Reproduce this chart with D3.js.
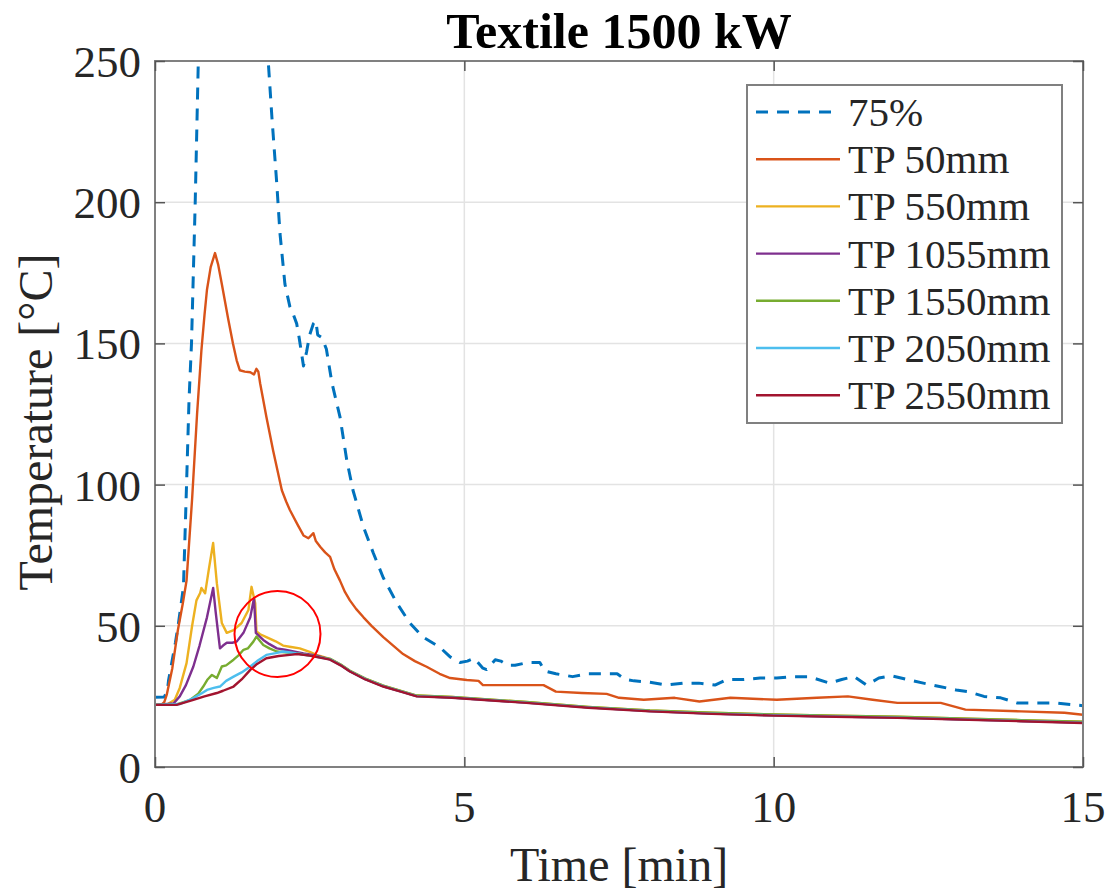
<!DOCTYPE html>
<html>
<head>
<meta charset="utf-8">
<script src="https://cdn.jsdelivr.net/npm/d3@7"></script>
<style>
  html, body { margin: 0; padding: 0; background: #fff; }
  svg { display: block; }
  text { font-family: "Liberation Serif", "Times New Roman", serif; }
</style>
</head>
<body>
<svg id="chart" width="1110" height="891"></svg>
<script>
// ---------------- DATA ----------------
const chartTitle = "Textile 1500 kW";
const xLabel = "Time [min]";
const yLabel = "Temperature [°C]";
const xTicks = [0, 5, 10, 15];
const yTicks = [0, 50, 100, 150, 200, 250];
const seriesNames = ["75%", "TP 50mm", "TP 550mm", "TP 1055mm", "TP 1550mm", "TP 2050mm", "TP 2550mm"];

const s75 = [[0,24.7],[0.15,24.8],[0.2,27],[0.22,30.8],[0.27,36.8],[0.33,44],[0.38,51],[0.46,63.8],[0.51,100],[0.55,130],[0.59,150],[0.65,200],[0.70,250],[0.8,295],[1.0,330],[1.3,320],[1.6,285],[1.83,250],[1.89,230],[1.97,206],[2.02,189],[2.1,171],[2.18,163],[2.24,160],[2.29,157],[2.33,152],[2.4,142],[2.45,147],[2.5,153],[2.56,157],[2.6,158],[2.63,153],[2.7,152],[2.77,148],[2.86,136],[2.99,124],[3.1,108.6],[3.2,98],[3.37,85],[3.53,75.7],[3.69,67],[3.91,58],[4.12,51],[4.33,46],[4.6,42.5],[4.77,39],[4.93,37],[5.05,37.5],[5.16,38.5],[5.3,35],[5.36,34.5],[5.5,38],[5.59,37.5],[5.7,36],[5.82,36],[6.02,37],[6.22,37],[6.3,34],[6.48,33],[6.75,32],[7.01,33],[7.27,33],[7.47,33],[7.6,31],[7.74,30.5],[8.0,30],[8.26,29],[8.53,29.7],[8.79,29.7],[9.05,29],[9.25,31],[9.52,31],[9.78,31.5],[10.05,31.5],[10.31,32],[10.57,32],[10.9,29.7],[11.1,31],[11.3,32],[11.5,29],[11.7,31.5],[11.9,32.3],[12.16,31],[12.42,29.7],[12.68,28.5],[12.95,27.3],[13.14,26.7],[13.4,25],[13.67,24.5],[13.93,22.7],[14.2,22.7],[14.53,22.7],[14.86,22],[15,21.7]];

const tp50 = [[0,22],[0.1,22],[0.15,23],[0.19,25.6],[0.28,35],[0.37,48.5],[0.45,58],[0.51,66],[0.6,95],[0.68,125],[0.75,147.5],[0.8,160],[0.84,169],[0.9,177],[0.97,182],[1.02,178],[1.08,171],[1.18,159],[1.26,150],[1.32,144],[1.37,140.5],[1.45,140],[1.54,139.8],[1.6,139],[1.64,141],[1.67,140],[1.70,135.8],[1.80,124],[1.91,112],[1.98,105],[2.05,98],[2.12,94],[2.18,91],[2.3,86],[2.40,82],[2.48,81],[2.56,82.8],[2.6,80],[2.67,78],[2.75,76],[2.83,74.4],[2.9,70],[2.99,66],[3.07,62],[3.15,59],[3.25,56],[3.37,53],[3.5,50],[3.69,46],[3.85,43],[4.01,40],[4.2,37.5],[4.39,35.5],[4.6,33],[4.77,31.5],[5.04,30.8],[5.23,30.5],[5.3,29],[5.43,29],[5.8,29],[6.28,29],[6.48,26.7],[6.9,26.2],[7.3,25.9],[7.5,24.5],[7.9,23.8],[8.4,24.5],[8.8,23.2],[9.3,24.5],[10.05,23.8],[10.7,24.5],[11.2,25],[11.6,23.8],[12.0,22.7],[12.7,22.7],[13.1,20.3],[14.0,19.7],[14.7,19.2],[15,18.5]];

const tp550 = [[0,22],[0.2,22.2],[0.32,23.8],[0.4,28],[0.51,36.8],[0.6,50],[0.67,59],[0.73,61.6],[0.75,63.4],[0.81,61.5],[0.87,70],[0.94,79.3],[1.0,65],[1.08,51],[1.16,47.5],[1.27,48.5],[1.4,51],[1.51,55.6],[1.56,63.8],[1.62,58],[1.64,48],[1.7,47],[1.8,46],[1.95,44.5],[2.07,43],[2.2,42.5],[2.34,42],[2.5,40.8],[2.61,39.7],[2.83,38.3],[3.0,36.3],[3.15,34.1],[3.4,31.3],[3.69,28.8],[4.0,26.8],[4.23,25.3],[4.8,24.8],[6,23],[7,21.3],[8,20],[9,19.2],[10,18.6],[11,18.2],[12,17.8],[13,17.2],[14,16.6],[15,16]];

const tp1055 = [[0,22],[0.3,22.5],[0.4,25],[0.5,29],[0.62,35.6],[0.72,43],[0.84,53],[0.94,63.4],[0.98,55],[1.02,47.5],[1.05,42],[1.1,43],[1.16,44],[1.25,44],[1.32,44.4],[1.43,47.5],[1.54,53],[1.6,59.8],[1.63,47.5],[1.75,45],[1.85,43.5],[1.97,42],[2.1,41.5],[2.24,40.9],[2.4,40.2],[2.6,39.5],[2.83,38.1],[3.0,36.1],[3.15,33.9],[3.4,31.1],[3.69,28.6],[4.0,26.6],[4.23,25.1],[4.8,24.6],[6,22.8],[7,21.1],[8,19.8],[9,18.9],[10,18.3],[11,17.9],[12,17.5],[13,16.9],[14,16.3],[15,15.7]];

const tp1550 = [[0,22],[0.35,22.2],[0.57,23.8],[0.7,26],[0.78,28.5],[0.85,31],[0.92,32.6],[1.0,31.5],[1.08,35.6],[1.15,36],[1.27,38],[1.35,39.5],[1.43,41.5],[1.5,42],[1.59,44.4],[1.64,46.2],[1.7,44.5],[1.75,43.2],[1.85,42],[1.97,40.9],[2.1,40.6],[2.3,40.2],[2.5,39.5],[2.83,38.3],[3.0,36.3],[3.15,34.1],[3.4,31.3],[3.69,28.8],[4.0,26.8],[4.23,25.3],[4.8,24.8],[6,23],[7,21.3],[8,20],[9,19.2],[10,18.6],[11,18.2],[12,17.8],[13,17.2],[14,16.6],[15,16]];

const tp2050 = [[0,22],[0.4,22.3],[0.62,24.4],[0.75,26],[0.84,27.3],[0.95,28],[1.05,28.5],[1.15,30.5],[1.27,32],[1.4,33.5],[1.54,35.6],[1.65,37.5],[1.8,39.7],[1.95,40.3],[2.07,40.9],[2.3,40.2],[2.5,39.5],[2.83,38.1],[3.0,36.1],[3.15,33.9],[3.4,31.1],[3.69,28.6],[4.0,26.6],[4.23,25.1],[4.8,24.6],[6,22.8],[7,21.1],[8,19.8],[9,18.9],[10,18.3],[11,17.9],[12,17.5],[13,16.9],[14,16.3],[15,15.7]];

const tp2550 = [[0,22],[0.35,22],[0.62,23.8],[0.8,25],[1.0,26.2],[1.1,27],[1.27,28.5],[1.4,31],[1.54,34.4],[1.65,36.5],[1.8,38.5],[2.0,39.3],[2.18,39.7],[2.3,40],[2.5,39.5],[2.83,38],[3.0,36],[3.15,33.8],[3.4,31],[3.69,28.5],[4.0,26.5],[4.23,25],[4.8,24.5],[6,22.7],[7,21],[8,19.7],[9,18.8],[10,18.2],[11,17.8],[12,17.4],[13,16.8],[14,16.2],[15,15.6]];

// annotation circle (data coords of centre)
const annotCenter = [1.98, 47.1];

// ---------------- LAYOUT ----------------
const colors = ["#0072BD", "#D95319", "#EDB120", "#7E2F8E", "#77AC30", "#4DBEEE", "#A2142F"];
const allSeries = [s75, tp50, tp550, tp1055, tp1550, tp2050, tp2550];
const L = 155, R = 1083, T = 61, B = 767;

const svg = d3.select("#chart");
const x = d3.scaleLinear().domain([0, 15]).range([L, R]);
const y = d3.scaleLinear().domain([0, 250]).range([B, T]);

// grid
const grid = svg.append("g");
grid.selectAll("line.gx").data(xTicks.slice(1, -1)).enter().append("line")
  .attr("x1", d => x(d)).attr("x2", d => x(d)).attr("y1", T).attr("y2", B)
  .attr("stroke", "#e3e3e3").attr("stroke-width", 1.5);
grid.selectAll("line.gy").data(yTicks.slice(1, -1)).enter().append("line")
  .attr("y1", d => y(d)).attr("y2", d => y(d)).attr("x1", L).attr("x2", R)
  .attr("stroke", "#e3e3e3").attr("stroke-width", 1.5);

// clip
svg.append("clipPath").attr("id", "clip").append("rect")
  .attr("x", L).attr("y", T).attr("width", R - L).attr("height", B - T);

const line = d3.line().x(d => x(d[0])).y(d => y(d[1]));
const plot = svg.append("g").attr("clip-path", "url(#clip)");
// draw in reverse so 75% and TP 50 on top order like MATLAB (later drawn on top)
allSeries.forEach((s, i) => {
  plot.append("path").datum(s)
    .attr("d", line)
    .attr("fill", "none")
    .attr("stroke", colors[i])
    .attr("stroke-width", i === 0 ? 3 : 2.4)
    .attr("stroke-linejoin", "round")
    .attr("stroke-dasharray", i === 0 ? "12,9" : null);
});

// axes box
svg.append("rect").attr("x", L).attr("y", T).attr("width", R - L).attr("height", B - T)
  .attr("fill", "none").attr("stroke", "#808080").attr("stroke-width", 2);

// ticks (inward, all four sides) using d3 axes
const tickLen = 10;
const axB = svg.append("g").attr("transform", `translate(0,${B})`)
  .call(d3.axisTop(x).tickValues(xTicks).tickSize(tickLen).tickFormat(""));
const axTop = svg.append("g").attr("transform", `translate(0,${T})`)
  .call(d3.axisBottom(x).tickValues(xTicks).tickSize(tickLen).tickFormat(""));
const axL = svg.append("g").attr("transform", `translate(${L},0)`)
  .call(d3.axisRight(y).tickValues(yTicks).tickSize(tickLen).tickFormat(""));
const axR = svg.append("g").attr("transform", `translate(${R},0)`)
  .call(d3.axisLeft(y).tickValues(yTicks).tickSize(tickLen).tickFormat(""));
[axB, axTop, axL, axR].forEach(a => {
  a.select(".domain").remove();
  a.selectAll(".tick line").attr("stroke", "#555").attr("stroke-width", 1.5);
});

// tick labels
svg.append("g").selectAll("text").data(xTicks).enter().append("text")
  .attr("x", d => x(d)).attr("y", 822).attr("text-anchor", "middle")
  .attr("font-size", 45).attr("fill", "#262626").text(d => d);
svg.append("g").selectAll("text").data(yTicks).enter().append("text")
  .attr("x", 141).attr("y", d => y(d) + 16).attr("text-anchor", "end")
  .attr("font-size", 45).attr("fill", "#262626").text(d => d);

// axis labels
svg.append("text").attr("x", (L + R) / 2).attr("y", 881).attr("text-anchor", "middle")
  .attr("font-size", 48).attr("fill", "#262626").text(xLabel);
svg.append("text").attr("transform", `translate(52,${(T + B) / 2 + 8}) rotate(-90)`)
  .attr("text-anchor", "middle").attr("font-size", 48).attr("fill", "#262626").text(yLabel);

// title
svg.append("text").attr("x", (L + R) / 2).attr("y", 48).attr("text-anchor", "middle")
  .attr("font-size", 50).attr("font-weight", "bold").attr("fill", "#000").text(chartTitle);

// legend
const lg = svg.append("g");
lg.append("rect").attr("x", 747).attr("y", 85).attr("width", 315).attr("height", 338)
  .attr("fill", "#fff").attr("stroke", "#808080").attr("stroke-width", 2);
seriesNames.forEach((n, i) => {
  const cy = 112 + i * 47.2;
  lg.append("line").attr("x1", 756).attr("x2", 840).attr("y1", cy).attr("y2", cy)
    .attr("stroke", colors[i]).attr("stroke-width", i === 0 ? 3 : 2.4)
    .attr("stroke-dasharray", i === 0 ? "12,9" : null);
  lg.append("text").attr("x", 848).attr("y", cy + 14).attr("font-size", 41)
    .attr("fill", "#262626").text(n);
});

// annotation circle
svg.append("circle").attr("cx", x(annotCenter[0])).attr("cy", y(annotCenter[1])).attr("r", 43)
  .attr("fill", "none").attr("stroke", "#ff0000").attr("stroke-width", 2);
</script>
</body>
</html>
